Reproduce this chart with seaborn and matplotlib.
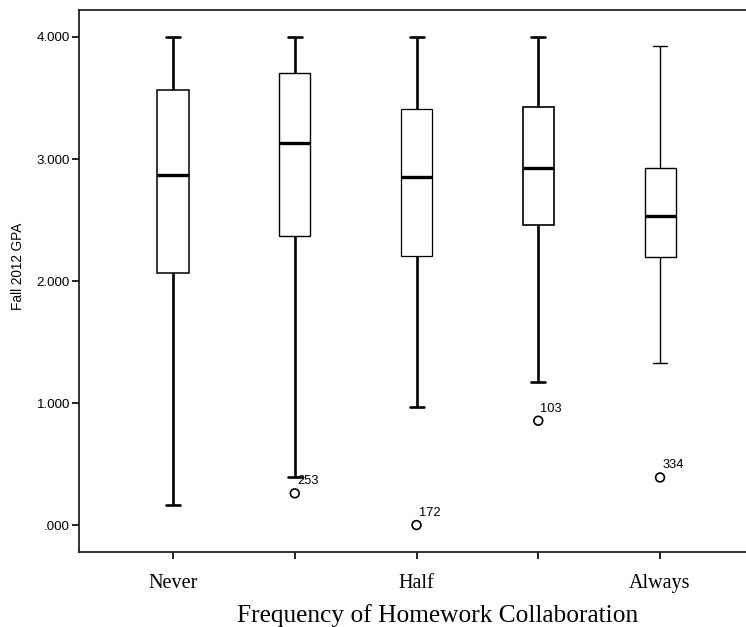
import numpy as np
import pandas as pd
import matplotlib
matplotlib.use("Agg")
import matplotlib.pyplot as plt
import seaborn as sns

# five-number summaries (whisker low, Q1, median, Q3, whisker high)
categories = ["Never", "Sometimes", "Half", "Often", "Always"]
tick_labels = ["Never", "", "Half", "", "Always"]
whis_low = [0.164, 0.397, 0.970, 1.175, 1.330]
q1 = [2.066, 2.369, 2.205, 2.459, 2.197]
median = [2.870, 3.131, 2.850, 2.930, 2.533]
q3 = [3.566, 3.705, 3.410, 3.426, 2.926]
whis_high = [4.000, 4.000, 4.000, 4.000, 3.926]

# outliers (category, value, case id)
out_cat = ["Sometimes", "Half", "Often", "Always"]
out_val = [0.260, 0.000, 0.855, 0.390]
out_id = ["253", "172", "103", "334"]

rows = []
for i, c in enumerate(categories):
    for v in (whis_low[i], q1[i], median[i], q3[i], whis_high[i]):
        rows.append({"freq": c, "gpa": v})
df = pd.DataFrame(rows)
df_out = pd.DataFrame({"freq": out_cat, "gpa": out_val, "id": out_id})

sns.set_style("ticks")
fig = plt.figure(figsize=(7.46, 6.27), dpi=100)
ax = fig.add_axes([0.1059, 0.1196, 0.8941, 0.8644])

# whisker thickness differs a bit between boxes in the original
whisk_lw = [1.9, 1.9, 1.9, 1.9, 1.0]
box_lw = [1.1, 1.0, 0.9, 1.2, 1.0]
for i, c in enumerate(categories):
    sns.boxplot(data=df[df["freq"] == c], x="freq", y="gpa", order=categories,
                whis=(0, 100), width=0.255, color="white", linecolor="black",
                fliersize=0, ax=ax,
                boxprops=dict(linewidth=box_lw[i], edgecolor="black"),
                whiskerprops=dict(linewidth=whisk_lw[i]),
                capprops=dict(linewidth=whisk_lw[i]),
                medianprops=dict(linewidth=2.4, color="black"),
                capwidths=0.115)

sns.scatterplot(data=df_out, x="freq", y="gpa", ax=ax, marker="o", s=40,
                facecolor="none", edgecolor="black", linewidth=1.2)
for _, r in df_out.iterrows():
    ax.annotate(r["id"], (categories.index(r["freq"]), r["gpa"]),
                xytext=(1.5, 6.5), textcoords="offset points",
                fontsize=9.3, family="Liberation Sans", color="black")

ax.set_xlim(-0.772, 4.706)
ax.set_ylim(-0.221, 4.221)
ax.set_yticks([0, 1, 2, 3, 4])
ax.set_yticklabels([".000", "1.000", "2.000", "3.000", "4.000"],
                   fontsize=9.6, family="Liberation Sans")
ax.set_xticks(range(len(categories)))
ax.set_xticklabels(tick_labels, fontsize=14.5, family="Liberation Serif")
ax.tick_params(axis="both", direction="out", length=5, width=1.2,
               colors="black", labelcolor="black")
ax.tick_params(axis="y", pad=1.5)
ax.tick_params(axis="x", pad=11)
ax.set_xlabel("Frequency of Homework Collaboration", fontsize=18.3,
              family="Liberation Serif", color="black", labelpad=8)
ax.xaxis.label.set_x(0.5375)
ax.set_ylabel("Fall 2012 GPA", fontsize=9.8, family="Liberation Sans",
              color="black")
ax.yaxis.set_label_coords(-0.081, 0.528)

for s in ["left", "bottom", "top"]:
    ax.spines[s].set_linewidth(1.3)
    ax.spines[s].set_color("#222222")
ax.spines["right"].set_visible(False)

fig.savefig("out.png", dpi=100)
